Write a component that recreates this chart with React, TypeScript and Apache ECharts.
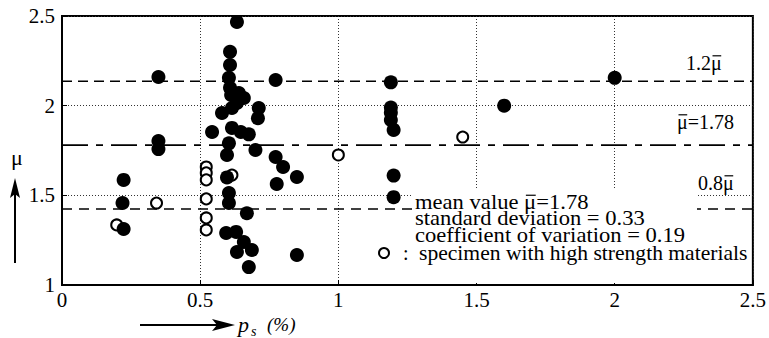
import React, { useEffect, useRef } from "react";
import * as echarts from "echarts";

// p_s (%) , mu  — filled: ordinary specimens
const solidPoints: [number, number][] = [
  [0.223, 1.586], [0.219, 1.457], [0.223, 1.312], [0.349, 2.16], [0.349, 1.803], [0.349, 1.758],
  [0.633, 2.467], [0.608, 2.3], [0.608, 2.227], [0.604, 2.155], [0.608, 2.1], [0.612, 2.06],
  [0.64, 2.07], [0.658, 2.043], [0.633, 2.015], [0.615, 1.987], [0.579, 1.959], [0.712, 1.987],
  [0.709, 1.93], [0.543, 1.853], [0.615, 1.876], [0.647, 1.853], [0.676, 1.84], [0.604, 1.79],
  [0.597, 1.725], [0.7, 1.753], [0.597, 1.6], [0.604, 1.513], [0.604, 1.457], [0.669, 1.4],
  [0.594, 1.29], [0.63, 1.296], [0.658, 1.24], [0.633, 1.184], [0.687, 1.195], [0.676, 1.1],
  [0.773, 1.714], [0.8, 1.658], [0.85, 1.602], [0.777, 1.563], [0.773, 2.143], [0.85, 1.167],
  [1.19, 2.13], [1.19, 1.99], [1.19, 1.96], [1.19, 1.92], [1.2, 1.865], [1.2, 1.61], [1.2, 1.49],
  [1.6, 2.0], [2.0, 2.155],
];
// hollow: specimens with high strength materials
const hollowPoints: [number, number][] = [
  [0.198, 1.335], [0.342, 1.457], [0.522, 1.658], [0.522, 1.625], [0.522, 1.586],
  [0.522, 1.48], [0.522, 1.374], [0.522, 1.307], [0.615, 1.613], [1.0, 1.725], [1.45, 1.825],
];
const meanMu = 1.78;
const upperMu = 2.136;
const lowerMu = 1.424;
const xRange = [0, 2.5];
const yRange = [1, 2.5];
const statPrefix = "mean value ";
const statLines = [
  "mean value \u03bc=1.78",
  "standard deviation = 0.33",
  "coefficient of variation = 0.19",
];
const hollowLegend = "specimen with high strength materials";
const MU = "\u03bc";

const FONT = "Liberation Serif";

function measure(text: string, font: string): number {
  const ctx = document.createElement("canvas").getContext("2d");
  if (!ctx) return text.length * 9;
  ctx.font = font;
  return ctx.measureText(text).width;
}

// text containing mu with an overline bar over mu
function muLabel(x0: number, yc: number, prefix: string, suffix: string, size: number, z = 6): any[] {
  const font = `${size}px ${FONT}`;
  const a = x0 + measure(prefix, font);
  const b = x0 + measure(prefix + MU, font);
  return [
    { type: "text", z, x: x0, y: yc, style: { text: prefix + MU + suffix, font, fill: "#000", verticalAlign: "middle" } },
    { type: "line", z, shape: { x1: a + 1.5, y1: yc - size * 0.36, x2: b - 0.5, y2: yc - size * 0.36 }, style: { stroke: "#000", lineWidth: 1.2 } },
  ];
}

export default function App() {
  const ref = useRef<HTMLDivElement>(null);
  useEffect(() => {
    if (!ref.current) return;
    const chart = echarts.init(ref.current, null, { renderer: "svg" });
    const refLine = (v: number, dash: number[]) => ({
      type: "line",
      data: [[xRange[0], v], [xRange[1], v]],
      showSymbol: false,
      symbol: "none",
      silent: true,
      z: 1,
      lineStyle: { color: "#000", width: 1.6, type: dash },
    });
    const lf = `20px ${FONT}`;
    const lh = 16.5;
    const mA = measure(statPrefix, lf);
    const mB = measure(statPrefix + MU, lf);
    chart.setOption({
      animation: false,
      backgroundColor: "#fff",
      textStyle: { fontFamily: FONT },
      grid: {
        left: 62, right: 12, top: 16, bottom: 53,
        show: true, borderColor: "#000", borderWidth: 2, backgroundColor: "transparent",
      },
      xAxis: {
        type: "value", min: xRange[0], max: xRange[1], interval: 0.5,
        axisLine: { lineStyle: { color: "#000", width: 2 } },
        axisTick: { inside: true, length: 5, lineStyle: { color: "#000" } },
        axisLabel: { color: "#000", fontFamily: FONT, fontSize: 21, margin: 4 },
        splitLine: { show: true, lineStyle: { color: "#333", type: [1, 2], width: 1 } },
      },
      yAxis: {
        type: "value", min: yRange[0], max: yRange[1], interval: 0.5,
        axisLine: { show: true, lineStyle: { color: "#000", width: 2 } },
        axisTick: { show: true, inside: true, length: 5, lineStyle: { color: "#000" } },
        axisLabel: { color: "#000", fontFamily: FONT, fontSize: 21, margin: 7 },
        splitLine: { show: true, lineStyle: { color: "#333", type: [1, 2], width: 1 } },
      },
      series: [
        refLine(upperMu, [10, 6]),
        refLine(meanMu, [26, 8, 7, 8]),
        refLine(lowerMu, [10, 7]),
        {
          type: "scatter", data: hollowPoints, symbol: "circle", symbolSize: 11, z: 9,
          itemStyle: { color: "#fff", borderColor: "#000", borderWidth: 2, opacity: 1 },
        },
        {
          type: "scatter", data: solidPoints, symbol: "circle", symbolSize: 14, z: 10,
          itemStyle: { color: "#000", opacity: 1 },
        },
      ],
      graphic: [
        { type: "rect", z: 5, shape: { x: 413, y: 190, width: 284, height: 93 }, style: { fill: "#fff" } },
        {
          type: "group", z: 6, x: 415, y: 194, scaleX: 1.13, scaleY: 1,
          children: [
            { type: "text", z: 6, x: 0, y: 0, style: { text: statLines.join("\n"), font: lf, lineHeight: lh, fill: "#000", verticalAlign: "top" } },
            { type: "line", z: 6, shape: { x1: mA + 1.5, y1: lh / 2 - 7, x2: mB - 0.5, y2: lh / 2 - 7 }, style: { stroke: "#000", lineWidth: 1.2 } },
          ],
        },
        { type: "circle", z: 6, shape: { cx: 384, cy: 253, r: 5 }, style: { fill: "#fff", stroke: "#000", lineWidth: 2 } },
        { type: "text", z: 6, x: 403, y: 253, style: { text: ":", font: `20px ${FONT}`, fill: "#000", verticalAlign: "middle" } },
        { type: "text", z: 6, x: 419, y: 253, scaleX: 1.08, originX: 0, style: { text: hollowLegend, font: `20px ${FONT}`, fill: "#000", verticalAlign: "middle" } },
        ...muLabel(686, 63, "1.2", "", 20),
        ...muLabel(677, 122, "", "=1.78", 20),
        ...muLabel(698, 183, "0.8", "", 20),
        // y axis name with arrow
        { type: "text", x: 17, y: 157, style: { text: MU, font: `22px ${FONT}`, fill: "#000", align: "center", verticalAlign: "middle" } },
        { type: "line", shape: { x1: 15, y1: 263, x2: 15, y2: 190 }, style: { stroke: "#000", lineWidth: 2 } },
        { type: "polygon", shape: { points: [[10, 198], [15, 178], [20, 198], [15, 194]] }, style: { fill: "#000" } },
        // x axis name with arrow
        { type: "line", shape: { x1: 140, y1: 325, x2: 222, y2: 325 }, style: { stroke: "#000", lineWidth: 2 } },
        { type: "polygon", shape: { points: [[212, 319], [235, 325], [212, 331], [217, 325]] }, style: { fill: "#000" } },
        { type: "text", x: 238, y: 324, style: { text: "p", font: `italic 22px ${FONT}`, fill: "#000", verticalAlign: "middle" } },
        { type: "text", x: 251, y: 331, style: { text: "s", font: `italic 14px ${FONT}`, fill: "#000", verticalAlign: "middle" } },
        { type: "text", x: 267, y: 324, style: { text: "(%)", font: `italic 19px ${FONT}`, fill: "#000", verticalAlign: "middle" } },
      ],
    });
    return () => chart.dispose();
  }, []);
  return <div ref={ref} style={{ position: "fixed", left: 0, top: 0, width: 769, height: 338 }} />;
}
